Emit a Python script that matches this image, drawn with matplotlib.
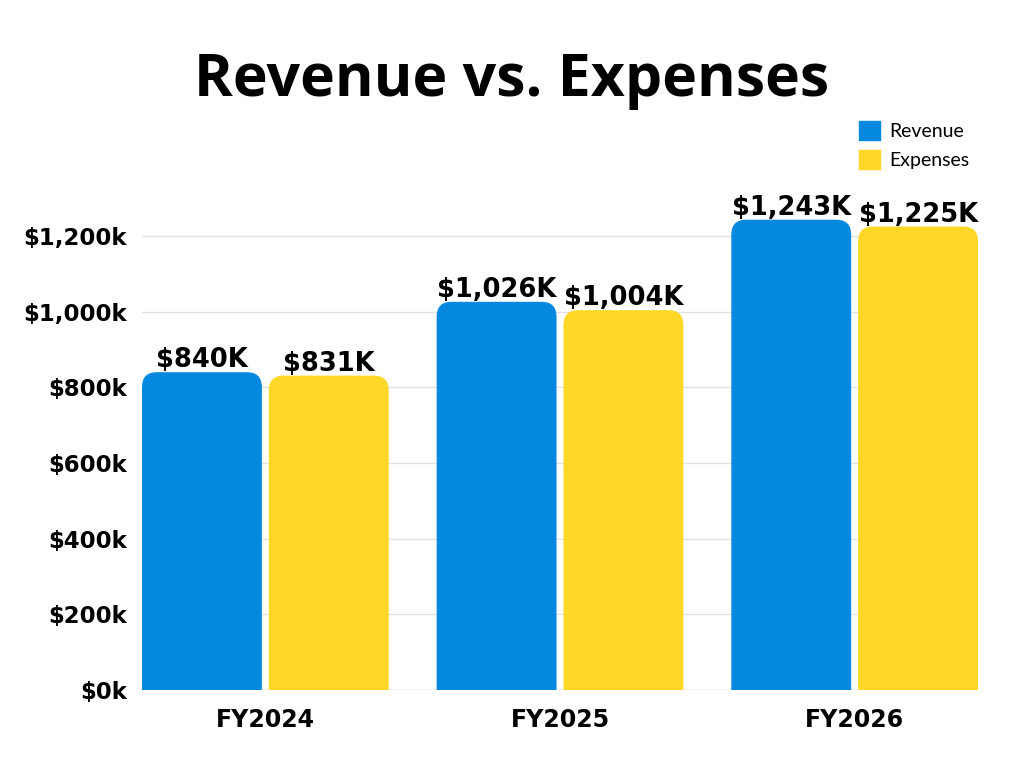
import matplotlib.pyplot as plt
from matplotlib.patches import FancyBboxPatch, Patch
import numpy as np

# datos
years = ["FY2024", "FY2025", "FY2026"]
revenue = [840, 1026, 1243]
expenses = [831, 1004, 1225]
rev_labels = ["$840K", "$1,026K", "$1,243K"]
exp_labels = ["$831K", "$1,004K", "$1,225K"]
yticks = [0, 200, 400, 600, 800, 1000, 1200]
ytick_labels = ["$0k", "$200k", "$400k", "$600k", "$800k", "$1,000k", "$1,200k"]

blue = "#0588E0"
yellow = "#FFD827"
font = "DejaVu Sans"

fig = plt.figure(figsize=(10.24, 7.68), dpi=100)
ax = fig.add_axes([142/1024, 1 - 690/768, (978-142)/1024, (690-150)/768])

px_per_unit_y = (690 - 236) / 1200.0
ax.set_ylim(0, (690 - 150) / px_per_unit_y)

w = 120 / 295.0
gap = 7 / 295.0
ax.set_xlim(-w - gap/2, 2 + w + gap/2)

x = np.arange(len(years))
r = 0.05
asp = (15 / px_per_unit_y) / r

def rbar(xl, h, color):
    p = FancyBboxPatch((xl + r, -60), w - 2*r, h + 60 - r*asp,
                       boxstyle="round,pad=%f" % r, mutation_aspect=asp,
                       fc=color, ec="none", zorder=3)
    ax.add_patch(p)

off = 5 / px_per_unit_y
for i in range(len(years)):
    rbar(x[i] - gap/2 - w, revenue[i], blue)
    rbar(x[i] + gap/2, expenses[i], yellow)
    ax.text(x[i] - gap/2 - w/2, revenue[i] + off, rev_labels[i], ha="center", va="baseline",
            fontsize=18.5, fontweight="bold", family=font, zorder=4)
    ax.text(x[i] + gap/2 + w/2, expenses[i] + off, exp_labels[i], ha="center", va="baseline",
            fontsize=18.5, fontweight="bold", family=font, zorder=4)

for yt in yticks:
    ax.axhline(yt, color="#e2e2e2" if yt else "#c8c8c8", lw=1, zorder=1)

ax.set_yticks(yticks)
ax.set_yticklabels(ytick_labels, fontsize=16.5, fontweight="bold", family=font)
ax.set_xticks(x)
ax.set_xticklabels(years, fontsize=17, fontweight="bold", family=font)
ax.tick_params(length=0)
ax.tick_params(axis="y", pad=11)
ax.tick_params(axis="x", pad=13)
for s in ax.spines.values():
    s.set_visible(False)

fig.text(0.5, 1 - 80/768, "Revenue vs. Expenses", ha="center", va="center",
         fontsize=42.5, fontweight="bold", family="Open Sans")

handles = [Patch(color=blue, label="Revenue"), Patch(color=yellow, label="Expenses")]
fig.legend(handles=handles, loc="upper left", bbox_to_anchor=(841/1024, 1 - 104/768),
           frameon=False, prop={"family": "Lato", "size": 14}, handlelength=1.1,
           handleheight=1.1, handletextpad=0.5, labelspacing=0.5)

fig.savefig("out.png", dpi=100)
